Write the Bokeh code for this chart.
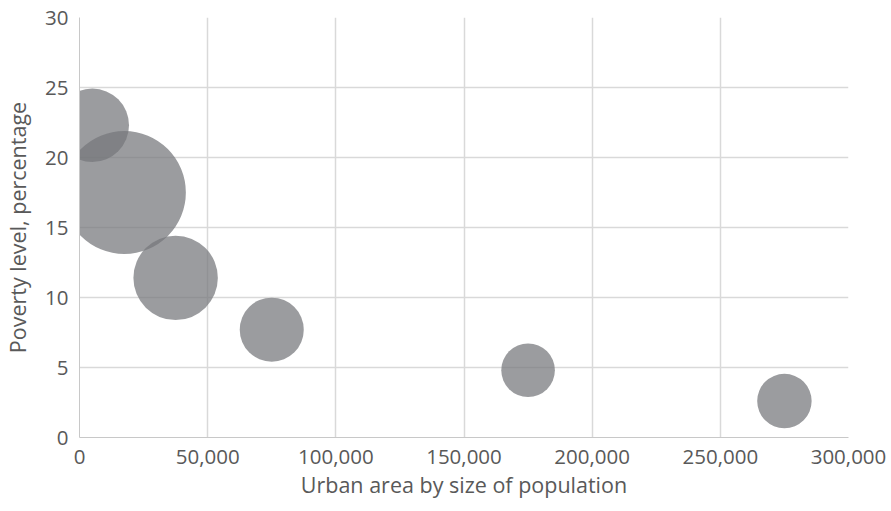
from bokeh.plotting import figure
from bokeh.models import ColumnDataSource, NumeralTickFormatter, Range1d, FixedTicker
from bokeh.embed import file_html
from bokeh.resources import INLINE

# Urban areas grouped by population size (class midpoints)
urban_area_size = [5000, 17500, 37500, 75000, 175000, 275000]
# Poverty level in each group, percent
poverty_pct = [22.3, 17.5, 11.4, 7.7, 4.8, 2.6]
# Relative bubble weight (area proportional)
bubble_weight = [35.6, 100.0, 47.1, 27.1, 19.0, 19.6]

x_ticks = [0, 50000, 100000, 150000, 200000, 250000, 300000]
y_ticks = [0, 5, 10, 15, 20, 25, 30]

MAX_DIAMETER = 123  # px for the largest bubble
diam = [MAX_DIAMETER * (w / max(bubble_weight)) ** 0.5 for w in bubble_weight]

src = ColumnDataSource(dict(x=urban_area_size, y=poverty_pct, d=diam))

FONT = "Open Sans"
TXT = "#595959"

p = figure(
    width=891, height=511,
    x_range=Range1d(0, 300000), y_range=Range1d(0, 30),
    output_backend="svg", toolbar_location=None,
    min_border_left=79, min_border_right=43,
    min_border_top=17, min_border_bottom=74,
)
p.outline_line_color = None
p.background_fill_color = "white"
p.border_fill_color = "white"

p.scatter("x", "y", size="d", source=src, marker="circle",
          fill_color="#76777b", fill_alpha=0.73, line_color=None)

p.xaxis.ticker = FixedTicker(ticks=x_ticks)
p.yaxis.ticker = FixedTicker(ticks=y_ticks)
p.xaxis.formatter = NumeralTickFormatter(format="0,0")

for ax in (p.xaxis[0], p.yaxis[0]):
    ax.major_tick_line_color = None
    ax.minor_tick_line_color = None
    ax.major_tick_out = 0
    ax.major_tick_in = 0
    ax.minor_tick_out = 0
    ax.axis_line_color = "#c8c8c8"
    ax.axis_line_width = 1
    ax.major_label_text_font = FONT
    ax.major_label_text_font_size = "20.5px"
    ax.major_label_text_color = TXT
    ax.axis_label_text_font = FONT
    ax.axis_label_text_font_size = "21.5px"
    ax.axis_label_text_color = TXT
    ax.axis_label_text_font_style = "normal"

p.xaxis.axis_label = "Urban area by size of population"
p.yaxis.axis_label = "Poverty level, percentage"
p.xaxis.major_label_standoff = 12
p.yaxis.major_label_standoff = 11
p.xaxis.axis_label_standoff = 3
p.yaxis.axis_label_standoff = 10

p.xgrid.ticker = FixedTicker(ticks=x_ticks)
p.ygrid.ticker = FixedTicker(ticks=y_ticks)
for g in (p.xgrid[0], p.ygrid[0]):
    g.grid_line_color = "#d9d9d9"
    g.grid_line_width = 1.5

open("out.html", "w").write(file_html(p, INLINE))
